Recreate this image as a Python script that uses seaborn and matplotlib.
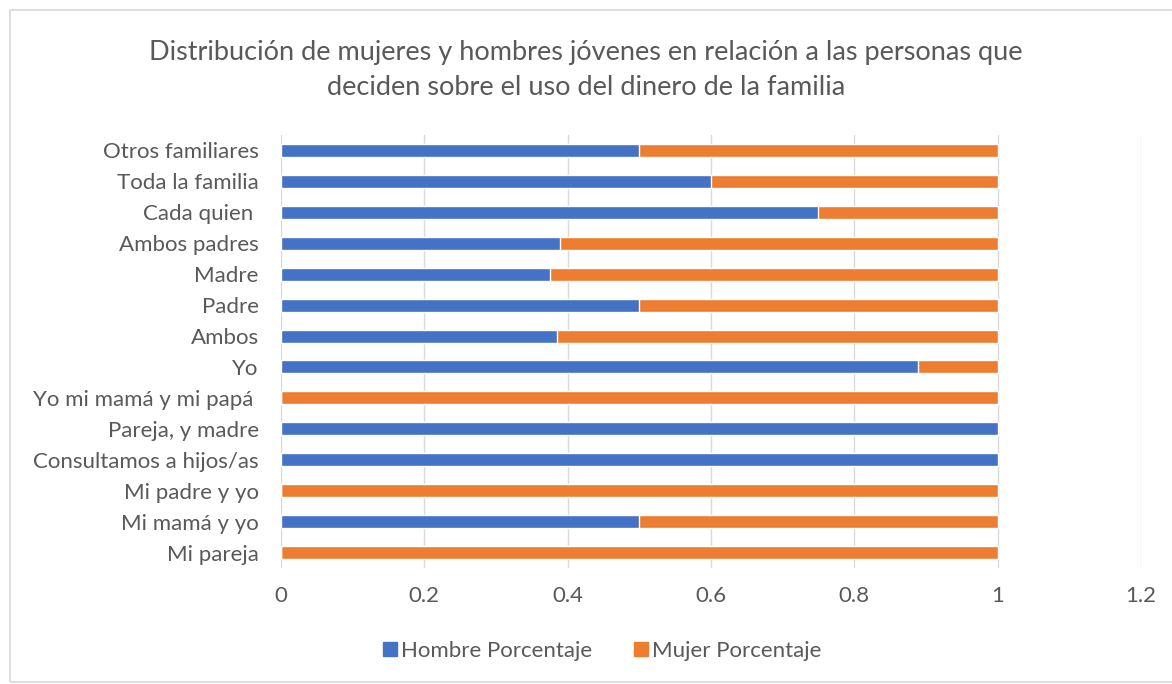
import matplotlib
matplotlib.use("Agg")
import matplotlib.pyplot as plt
import seaborn as sns
import pandas as pd
from matplotlib.patches import Rectangle, Patch

categorias = ["Otros familiares", "Toda la familia", "Cada quien ", "Ambos padres", "Madre",
              "Padre", "Ambos", "Yo", "Yo mi mamá y mi papá ", "Pareja, y madre",
              "Consultamos a hijos/as", "Mi padre y yo", "Mi mamá y yo", "Mi pareja"]
hombre = [0.5, 0.6, 0.75, 0.3889, 0.375, 0.5, 0.3846, 0.8889, 0.0, 1.0, 1.0, 0.0, 0.5, 0.0]
mujer = [0.5, 0.4, 0.25, 0.6111, 0.625, 0.5, 0.6154, 0.1111, 1.0, 0.0, 0.0, 1.0, 0.5, 1.0]
ticks_x = [0, 0.2, 0.4, 0.6, 0.8, 1, 1.2]
tick_labels_x = ["0", "0.2", "0.4", "0.6", "0.8", "1", "1.2"]

sns.set_theme(style="white")
plt.rcParams['font.family'] = ['Lato', 'DejaVu Sans']
gris = "#595959"
azul = "#4472C4"
naranja = "#ED7D31"

df = pd.DataFrame({"cat": categorias, "hombre": hombre, "mujer": mujer})
df["total"] = df["hombre"] + df["mujer"]

fig = plt.figure(figsize=(11.72, 6.84), dpi=100)
ax = fig.add_axes([0.2398, 0.1696, 0.7337, 0.633])

sns.barplot(data=df, y="cat", x="total", color=naranja, orient="h", width=0.42,
            saturation=1, ax=ax, order=categorias)
sns.barplot(data=df, y="cat", x="hombre", color=azul, orient="h", width=0.42,
            saturation=1, ax=ax, order=categorias)

ax.set_xlim(0, 1.2)
ax.set_ylim(len(categorias) - 0.5, -0.5)
ax.set_xticks(ticks_x)
ax.set_xticklabels(tick_labels_x)
ax.xaxis.grid(True, color="#D9D9D9", linewidth=1)
ax.set_axisbelow(True)
for s in ax.spines.values():
    s.set_visible(False)
ax.set_xlabel("")
ax.set_ylabel("")
ax.tick_params(axis="both", colors=gris, labelsize=16, length=0)
ax.tick_params(axis="x", pad=13)
ax.tick_params(axis="y", pad=16)

fig.text(0.5, 0.897, "Distribución de mujeres y hombres jóvenes en relación a las personas que\ndeciden sobre el uso del dinero de la familia",
         ha="center", va="center", fontsize=19.5, color=gris, linespacing=1.5)

handles = [Patch(color=azul, label="Hombre Porcentaje"), Patch(color=naranja, label="Mujer Porcentaje")]
leg = fig.legend(handles=handles, loc="center", bbox_to_anchor=(0.514, 0.048), ncol=2, frameon=False,
                 fontsize=16, handlelength=0.6, handleheight=0.6, handletextpad=0.2, columnspacing=1.9)
for t in leg.get_texts():
    t.set_color(gris)

fig.patches.append(Rectangle((0.0085, 0.003), 1.2, 0.982, transform=fig.transFigure,
                             fill=False, edgecolor="#D9D9D9", linewidth=1.2))

fig.savefig("out.png", dpi=100, facecolor="white")
